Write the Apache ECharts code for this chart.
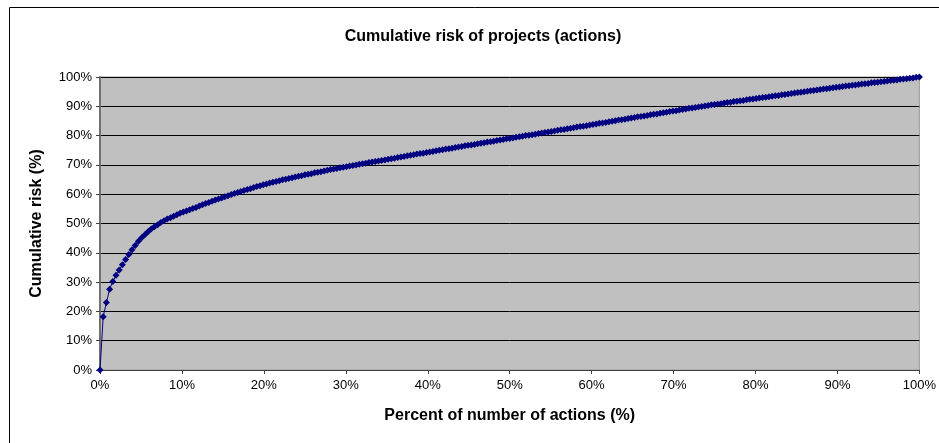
<!DOCTYPE html>
<html lang="en">

<head>
  <meta charset="utf-8">
  <title>Cumulative risk of projects</title>
  <script src="https://cdn.jsdelivr.net/npm/echarts@6/dist/echarts.min.js"></script>
  <style>
    html, body { margin: 0; padding: 0; background: #fff; }
    #main { width: 939px; height: 443px; }
  </style>
</head>

<body>
  <div id="main"></div>

  <script>
    // chart texts
    var chartTitle = 'Cumulative risk of projects (actions)';
    var xName = 'Percent of number of actions (%)';
    var yName = 'Cumulative risk (%)';

    // tick label values (%)
    var xTicks = [0, 10, 20, 30, 40, 50, 60, 70, 80, 90, 100];
    var yTicks = [0, 10, 20, 30, 40, 50, 60, 70, 80, 90, 100];

    // cumulative risk (%), one value per action, in rank order
    var cumRisk = [
      0.0, 18.2, 23.0, 27.6, 30.2, 32.3, 34.1, 35.9, 37.7, 39.4,
      41.0, 42.5, 43.9, 45.1, 46.2, 47.2, 48.1, 48.9, 49.6, 50.3,
      50.9, 51.5, 52.0, 52.5, 53.0, 53.5, 53.9, 54.3, 54.7, 55.1,
      55.5, 56.0, 56.4, 56.8, 57.2, 57.6, 58.0, 58.4, 58.7, 59.1,
      59.5, 59.9, 60.2, 60.6, 60.9, 61.3, 61.6, 61.9, 62.3, 62.6,
      62.9, 63.2, 63.5, 63.8, 64.1, 64.3, 64.6, 64.9, 65.1, 65.4,
      65.6, 65.9, 66.1, 66.3, 66.6, 66.8, 67.0, 67.3, 67.5, 67.7,
      67.9, 68.2, 68.4, 68.6, 68.8, 69.0, 69.2, 69.4, 69.6, 69.8,
      70.0, 70.2, 70.4, 70.6, 70.8, 71.0, 71.2, 71.3, 71.5, 71.7,
      71.9, 72.1, 72.3, 72.5, 72.7, 72.9, 73.1, 73.3, 73.5, 73.7,
      73.9, 74.0, 74.2, 74.4, 74.6, 74.8, 75.0, 75.2, 75.4, 75.5,
      75.7, 75.9, 76.1, 76.3, 76.5, 76.7, 76.8, 77.0, 77.2, 77.4,
      77.6, 77.8, 77.9, 78.1, 78.3, 78.5, 78.7, 78.9, 79.0, 79.2,
      79.4, 79.6, 79.8, 80.0, 80.1, 80.3, 80.5, 80.7, 80.9, 81.1,
      81.2, 81.4, 81.6, 81.8, 82.0, 82.1, 82.3, 82.5, 82.7, 82.9,
      83.1, 83.2, 83.4, 83.6, 83.8, 84.0, 84.2, 84.3, 84.5, 84.7,
      84.9, 85.1, 85.3, 85.4, 85.6, 85.8, 86.0, 86.2, 86.4, 86.5,
      86.7, 86.9, 87.1, 87.3, 87.4, 87.6, 87.8, 88.0, 88.2, 88.4,
      88.5, 88.7, 88.9, 89.1, 89.3, 89.4, 89.6, 89.8, 89.9, 90.1,
      90.3, 90.5, 90.6, 90.8, 90.9, 91.1, 91.3, 91.4, 91.6, 91.7,
      91.9, 92.0, 92.2, 92.4, 92.5, 92.7, 92.8, 93.0, 93.1, 93.3,
      93.4, 93.6, 93.7, 93.9, 94.0, 94.2, 94.4, 94.5, 94.7, 94.8,
      95.0, 95.1, 95.3, 95.4, 95.6, 95.7, 95.9, 96.0, 96.2, 96.3,
      96.5, 96.6, 96.8, 96.9, 97.0, 97.2, 97.3, 97.4, 97.6, 97.7,
      97.8, 98.0, 98.1, 98.2, 98.4, 98.5, 98.6, 98.8, 98.9, 99.0,
      99.2, 99.3, 99.4, 99.6, 99.7, 99.9, 100.0
    ];

    // x = rank of the action as a percent of all actions
    var points = cumRisk.map(function(v, i) {
      return [i * 100 / (cumRisk.length - 1), v];
    });

    var font = '"Liberation Sans", Arial, sans-serif';

    var myChart = echarts.init(document.getElementById('main'), null, { renderer: 'canvas' });

    var option = {
      animation: false,
      backgroundColor: '#ffffff',
      title: {
        text: chartTitle,
        left: 478,
        top: 24,
        textAlign: 'center',
        textStyle: { fontFamily: font, fontSize: 16, fontWeight: 'bold', color: '#000' }
      },
      // outer frame of the chart area
      graphic: [{
        type: 'rect',
        silent: true,
        shape: { x: 9.5, y: 7.5, width: 1000, height: 1000 },
        style: { fill: 'none', stroke: '#000', lineWidth: 1 }
      }],
      grid: {
        left: 100,
        right: 19,
        top: 77,
        bottom: 73,
        show: true,
        backgroundColor: '#c0c0c0',
        borderColor: '#9a9a9a',
        borderWidth: 1
      },
      xAxis: {
        type: 'value',
        min: xTicks[0],
        max: xTicks[xTicks.length - 1],
        interval: 10,
        name: xName,
        nameLocation: 'middle',
        nameGap: 38,
        nameTextStyle: { fontFamily: font, fontSize: 16, fontWeight: 'bold', color: '#000' },
        axisLine: { lineStyle: { color: '#404040', width: 1 } },
        axisTick: { show: true, length: 4, lineStyle: { color: '#404040' } },
        axisLabel: {
          fontFamily: font, fontSize: 13, color: '#000', margin: 9,
          formatter: '{value}%'
        },
        splitLine: { show: false }
      },
      yAxis: {
        type: 'value',
        min: yTicks[0],
        max: yTicks[yTicks.length - 1],
        interval: 10,
        name: yName,
        nameLocation: 'middle',
        nameGap: 55,
        nameTextStyle: { fontFamily: font, fontSize: 16, fontWeight: 'bold', color: '#000' },
        axisLine: { show: true, lineStyle: { color: '#707070', width: 2 } },
        axisTick: { show: true, length: 4, lineStyle: { color: '#404040' } },
        axisLabel: {
          fontFamily: font, fontSize: 13, color: '#000', margin: 8,
          formatter: '{value}%'
        },
        splitLine: { show: true, lineStyle: { color: '#000', width: 1 } }
      },
      series: [{
        name: 'Cumulative risk',
        type: 'line',
        data: points,
        symbol: 'diamond',
        symbolSize: 7,
        showSymbol: true,
        lineStyle: { color: '#000080', width: 1 },
        itemStyle: { color: '#000080', borderWidth: 0 }
      }]
    };

    myChart.setOption(option);
  </script>
</body>

</html>
